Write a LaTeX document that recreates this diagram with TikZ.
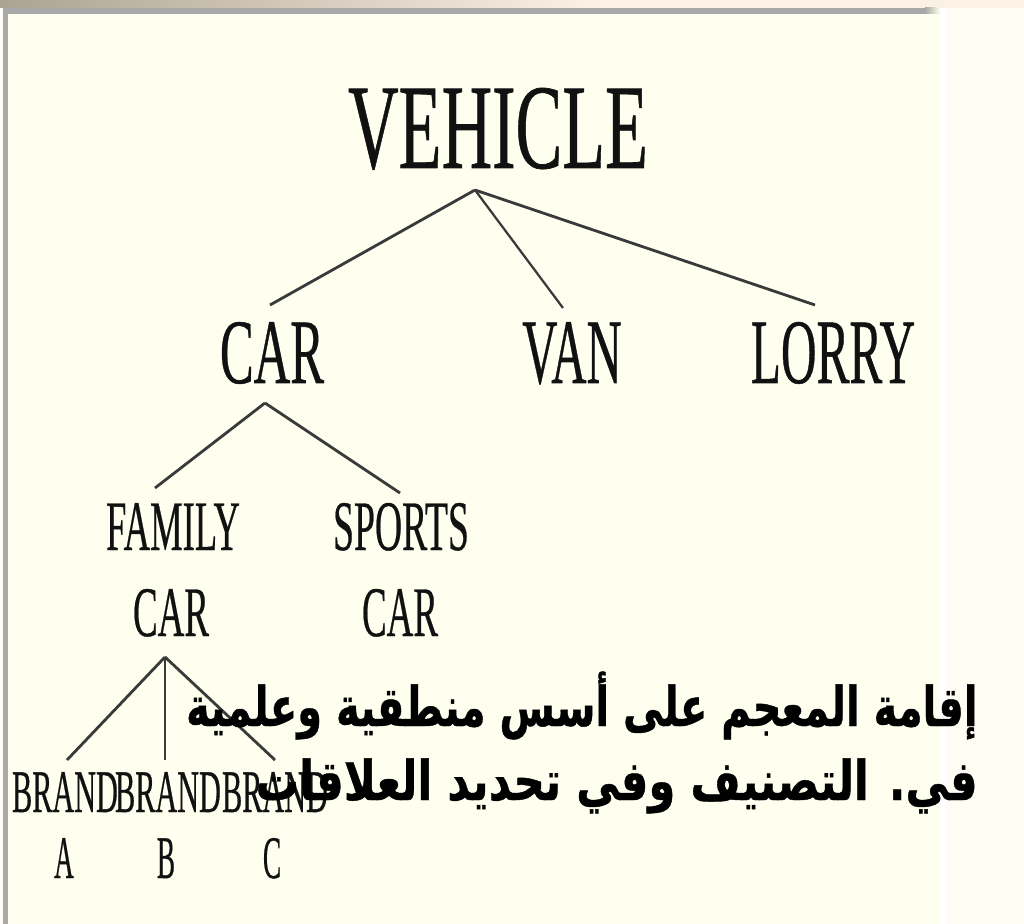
\documentclass[tikz,border=0pt]{standalone}
\usepackage{fontspec}
\usepackage{graphicx}
\setmainfont{Liberation Serif}
\newfontfamily\treefont[FakeBold=0.6]{Liberation Serif}
\newfontfamily\arabicfont[Script=Arabic, FakeBold=0.8]{DejaVu Sans}
\TeXXeTstate=1
\usetikzlibrary{calc}
\definecolor{panel}{HTML}{FFFFF0}
\definecolor{side}{HTML}{FFFDF3}
\definecolor{frame}{HTML}{A8A8A8}
\definecolor{topL}{HTML}{ABA393}
\definecolor{topR}{HTML}{FBF1E5}
\definecolor{ink}{HTML}{111111}
\definecolor{twig}{HTML}{3A3A3A}
\newcommand{\narrow}[2]{\scalebox{#1}[1]{#2}}

\begin{document}
\begin{tikzpicture}[x=0.025cm, y=-0.025cm,
    word/.style={inner sep=0pt, anchor=base, text=ink},
    huge word/.style={word, font=\treefont\fontsize{86}{96}\selectfont},
    big word/.style={word, font=\treefont\fontsize{65.5}{74}\selectfont},
    mid word/.style={word, font=\treefont\fontsize{50.5}{58}\selectfont},
    small word/.style={word, font=\treefont\fontsize{43}{50}\selectfont},
    branch/.style={draw=twig, line width=2pt},
    arabic/.style={inner sep=0pt, anchor=base east, text=black,
                   font=\arabicfont\bfseries\fontsize{39}{46}\selectfont},
]
\useasboundingbox (0,0) rectangle (1024,924);
% slide background
\fill[side] (0,0) rectangle (1024,924);
\shade[left color=topL, right color=topR] (0,0) rectangle (600,8);
\fill[topR] (600,0) rectangle (1024,8);
\fill[panel] (3,8) rectangle (940,924);
\fill[white] (940,8) rectangle (947,924);
\fill[frame] (3,8) rectangle (8,924);
\fill[frame] (3,8) rectangle (925,14);
\shade[left color=frame, right color=panel] (925,8) rectangle (940,14);

% tree
\node[huge word] (vehicle) at (498,168) {\narrow{0.58}{VEHICLE}};
\node[big word] (car) at (272,383) {\narrow{0.55}{CAR}};
\node[big word] (van) at (572,383) {\narrow{0.53}{VAN}};
\node[big word] (lorry) at (833,383) {\narrow{0.535}{LORRY}};
\node[mid word] (family) at (173,550) {\narrow{0.515}{FAMILY}};
\node[mid word] (familycar) at (171,636) {\narrow{0.52}{CAR}};
\node[mid word] (sports) at (401,550) {\narrow{0.53}{SPORTS}};
\node[mid word] (sportscar) at (400,636) {\narrow{0.52}{CAR}};
\node[small word] (branda) at (65,812) {\narrow{0.5}{BRAND}};
\node[small word] (brandb) at (168,812) {\narrow{0.5}{BRAND}};
\node[small word] (brandc) at (275,812) {\narrow{0.5}{BRAND}};
\node[small word] (a) at (64,878) {\narrow{0.45}{A}};
\node[small word] (b) at (166,878) {\narrow{0.45}{B}};
\node[small word] (c) at (272,878) {\narrow{0.45}{C}};

\draw[branch] ($(vehicle.base)+(-23,22)$) -- ($(car.base)+(-2,-78)$);
\draw[branch, line width=1.6pt] ($(vehicle.base)+(-23,22)$) -- ($(van.base)+(-9,-75)$);
\draw[branch] ($(vehicle.base)+(-23,22)$) -- ($(lorry.base)+(-18,-78)$);
\draw[branch] ($(car.base)+(-7,20)$) -- ($(family.base)+(-18,-62)$);
\draw[branch] ($(car.base)+(-7,20)$) -- ($(sports.base)+(-1,-57)$);
\draw[branch] ($(familycar.base)+(-6,21)$) -- ($(branda.base)+(2,-52)$);
\draw[branch, line width=1.4pt] ($(familycar.base)+(-6,21)$) -- ($(brandb.base)+(-3,-52)$);
\draw[branch] ($(familycar.base)+(-6,21)$) -- ($(brandc.base)+(0,-52)$);

% arabic caption
\node[arabic] (rule1) at (978,726) {\narrow{0.73}{\beginR إقامة المعجم على أسس منطقية وعلمية\endR}};
\node[arabic] (rule2) at (978,800) {\narrow{0.79}{\beginR في. التصنيف وفي تحديد العلاقات\endR}};
\end{tikzpicture}
\end{document}
